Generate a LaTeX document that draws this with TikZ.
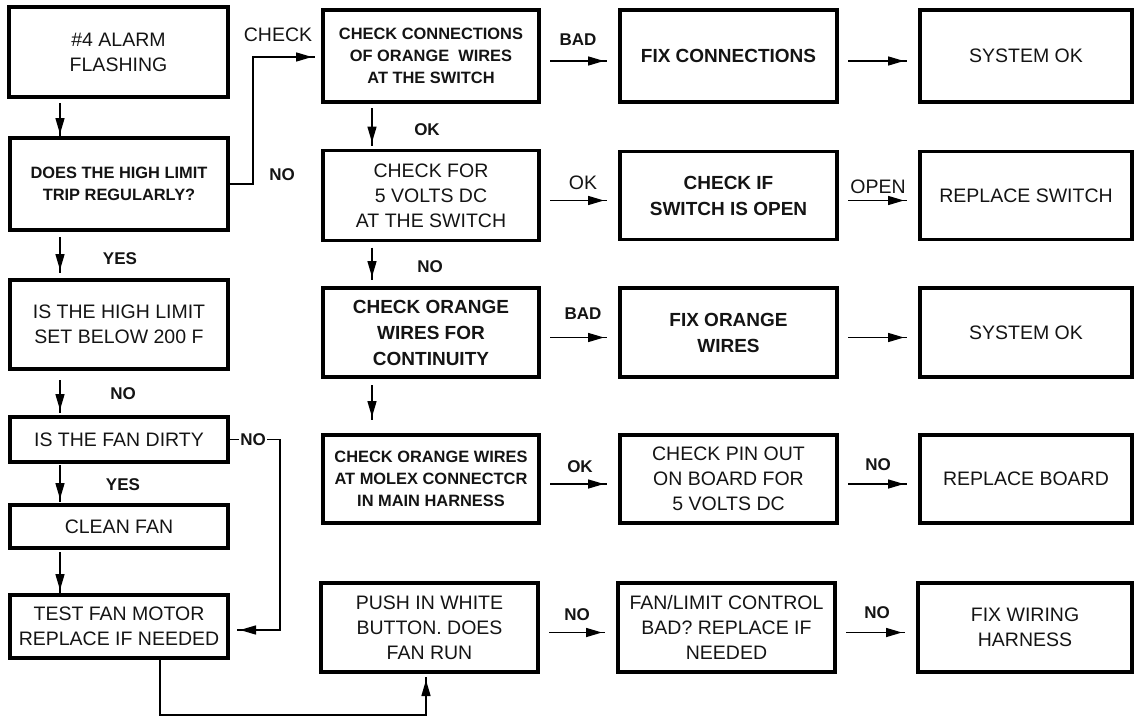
\documentclass[tikz,border=0pt]{standalone}
\usepackage{fontspec}
\setmainfont{Liberation Sans}
\usetikzlibrary{arrows.meta,decorations.markings}
\begin{document}
\begin{tikzpicture}[x=1pt,y=-1pt,
  box/.style={draw, line width=3.2pt, inner sep=2pt, align=center, outer sep=0pt, text=black!92},
  wh/.style 2 args={minimum width=#1pt, minimum height=#2pt},
  reg/.style={font=\fontsize{19.5}{25}\selectfont},
  bsm/.style={font=\fontsize{16.4}{22}\selectfont\bfseries},
  bbig/.style={font=\fontsize{19}{26}\selectfont\bfseries},
  lab/.style={font=\fontsize{17}{20}\selectfont\bfseries, inner sep=1pt, text=black!92},
  labr/.style={font=\fontsize{19.5}{22}\selectfont, inner sep=1pt, text=black!92},
  conn/.style={line width=1.5pt},
  arr/.style={conn, postaction={decorate}, decoration={markings, mark=at position -3pt with {\arrow{Triangle[length=16pt,width=9pt]}}}},
]
\useasboundingbox (0,0) rectangle (1135,717);

% column 1
\node[box, reg, wh={219}{90}] (a) at (118.5,52) {\#4 ALARM\\FLASHING};
\node[box, bsm, wh={218}{92}] (b) at (119,184) {DOES THE HIGH LIMIT\\TRIP REGULARLY?};
\node[box, reg, wh={218}{89}] (c1) at (119,324.5) {IS THE HIGH LIMIT\\SET BELOW 200 F};
\node[box, reg, wh={218}{45}] (d) at (119,439.5) {IS THE FAN DIRTY};
\node[box, reg, wh={218}{43}] (e) at (119,526.5) {CLEAN FAN};
\node[box, reg, wh={218}{63}, line width=4.5pt] (f) at (119,626.5) {TEST FAN MOTOR\\REPLACE IF NEEDED};

% column 2
\node[box, bsm, wh={216}{92}] (c) at (431,56) {CHECK CONNECTIONS\\OF ORANGE\ \ WIRES\\AT THE SWITCH};
\node[box, reg, wh={216}{90}] (v5) at (431,195.5) {CHECK FOR\\5 VOLTS DC\\AT THE SWITCH};
\node[box, bbig, wh={216}{89}] (cont) at (431,332.5) {CHECK ORANGE\\WIRES FOR\\CONTINUITY};
\node[box, bsm, wh={216}{88}] (molex) at (431,479) {CHECK ORANGE WIRES\\AT MOLEX CONNECTCR\\IN MAIN HARNESS};
\node[box, reg, wh={217}{89}] (push) at (429.5,627.5) {PUSH IN WHITE\\BUTTON. DOES\\FAN RUN};

% column 3
\node[box, bbig, wh={217}{92}] (fixc) at (728.5,56) {FIX CONNECTIONS};
\node[box, bbig, wh={217}{88}] (swo) at (728.5,195.5) {CHECK IF\\SWITCH IS OPEN};
\node[box, bbig, wh={217}{89}] (fixo) at (728.5,332.5) {FIX ORANGE\\WIRES};
\node[box, reg, wh={217}{88}] (pin) at (728.5,479) {CHECK PIN OUT\\ON BOARD FOR\\5 VOLTS DC};
\node[box, reg, wh={217}{89}] (fanlim) at (726.5,627.5) {FAN/LIMIT CONTROL\\BAD? REPLACE IF\\NEEDED};

% column 4
\node[box, reg, wh={212}{92}] (sys1) at (1026,56) {SYSTEM OK};
\node[box, reg, wh={212}{88}] (rsw) at (1026,195.5) {REPLACE SWITCH};
\node[box, reg, wh={212}{89}] (sys2) at (1026,332.5) {SYSTEM OK};
\node[box, reg, wh={212}{88}] (rbd) at (1026,479) {REPLACE BOARD};
\node[box, reg, wh={214}{89}] (fixw) at (1025,627.5) {FIX WIRING\\HARNESS};

% vertical arrows column 1
\draw[arr] ([xshift=-58.5pt,yshift=-6pt]a.south) -- ([xshift=-59pt,yshift=1pt]b.north);
\draw[arr] ([xshift=-59pt,yshift=-7pt]b.south) -- ([xshift=-59pt,yshift=7pt]c1.north);
\draw[arr] ([xshift=-59pt,yshift=-11pt]c1.south) -- ([xshift=-59pt,yshift=4pt]d.north);
\draw[arr] ([xshift=-59pt,yshift=-3pt]d.south) -- ([xshift=-59pt,yshift=3pt]e.north);
\draw[arr] ([xshift=-59pt,yshift=-4pt]e.south) -- ([xshift=-59pt,yshift=2pt]f.north);

% vertical arrows column 2
\draw[arr] ([xshift=-59pt,yshift=-6pt]c.south) -- ([xshift=-59pt,yshift=5pt]v5.north);
\draw[arr] ([xshift=-59pt,yshift=-7pt]v5.south) -- ([xshift=-59pt,yshift=8pt]cont.north);
\draw[arr] ([xshift=-59pt,yshift=-8pt]cont.south) -- ([xshift=-59pt,yshift=15pt]molex.north);

% horizontal arrows
\foreach \l/\r in {c/fixc, v5/swo, cont/fixo, molex/pin, push/fanlim, fixc/sys1, swo/rsw, fixo/sys2, pin/rbd, fanlim/fixw}
  \draw[arr] ([xshift=11pt,yshift=-5pt]\l.east) -- ([xshift=-13pt,yshift=-5pt]\r.west);

% elbow connectors
\draw[arr] (b.east) -- ++(25,0) |- ([xshift=-8pt,yshift=-1pt]c.west);
\draw[arr] (d.east) -- ++(52,0) |- ([xshift=9pt,yshift=-3.5pt]f.east);
\node[lab, fill=white] at ([xshift=25pt]d.east) {NO};
\draw[arr] ([xshift=41pt]f.south) -- ++(0,57) -| ([xshift=-3.5pt,yshift=-5pt]push.south);

% labels
\node[labr] at (278,35) {CHECK};
\node[lab] at (282,175) {NO};
\node[lab] at (120,259) {YES};
\node[lab] at (123,394) {NO};
\node[lab] at (123,485) {YES};
\node[lab] at (427,130) {OK};
\node[lab] at (430,267) {NO};
\node[lab] at (578,40) {BAD};
\node[labr] at (583,183) {OK};
\node[lab] at (583,314) {BAD};
\node[lab] at (580,467) {OK};
\node[lab] at (577,615) {NO};
\node[labr] at (878,187) {OPEN};
\node[lab] at (878,465) {NO};
\node[lab] at (877,613) {NO};
\end{tikzpicture}
\end{document}
